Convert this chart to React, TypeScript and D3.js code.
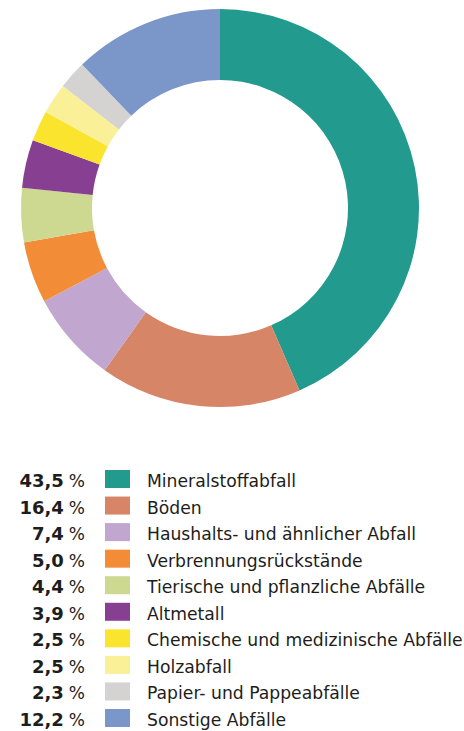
import React from "react";
import * as d3 from "d3";

const categories = [
  "Mineralstoffabfall",
  "Böden",
  "Haushalts- und ähnlicher Abfall",
  "Verbrennungsrückstände",
  "Tierische und pflanzliche Abfälle",
  "Altmetall",
  "Chemische und medizinische Abfälle",
  "Holzabfall",
  "Papier- und Pappeabfälle",
  "Sonstige Abfälle",
];
const values = [43.5, 16.4, 7.4, 5.0, 4.4, 3.9, 2.5, 2.5, 2.3, 12.2];
const valueLabels = ["43,5", "16,4", "7,4", "5,0", "4,4", "3,9", "2,5", "2,5", "2,3", "12,2"];
const colors = [
  "#229a8e",
  "#d68566",
  "#c1a6cf",
  "#f28c36",
  "#cdd991",
  "#873f92",
  "#fbe42e",
  "#faf097",
  "#d4d3d2",
  "#7b97c9",
];

export default function App() {
  const width = 464;
  const height = 731;
  const cx = 220;
  const cy = 208;
  const outerR = 199;
  const innerR = 128;

  const pie = d3.pie<number>().sort(null).value((d) => d);
  const arcs = pie(values);
  const arc = d3.arc<d3.PieArcDatum<number>>().innerRadius(innerR).outerRadius(outerR);

  const rowY = d3.scaleLinear().domain([0, categories.length - 1]).range([487, 726]);

  return (
    <svg
      width={width}
      height={height}
      style={{ position: "absolute", left: 0, top: 0, background: "#fff" }}
      fontFamily="'DejaVu Sans', sans-serif"
    >
      <g transform={`translate(${cx},${cy})`}>
        {arcs.map((a, i) => (
          <path key={i} d={arc(a) || ""} fill={colors[i]} />
        ))}
      </g>
      {categories.map((c, i) => {
        const y = rowY(i);
        return (
          <g key={c}>
            <text x={85} y={y} textAnchor="end" fontSize={17} fill="#1d1d1b">
              <tspan fontWeight={700} fontSize={18}>{valueLabels[i]}</tspan>
              <tspan dx={5}>%</tspan>
            </text>
            <rect x={105} y={y - 17} width={25} height={18} fill={colors[i]} />
            <text x={147} y={y} fontSize={17.2} fill="#1d1d1b">
              {c}
            </text>
          </g>
        );
      })}
    </svg>
  );
}
